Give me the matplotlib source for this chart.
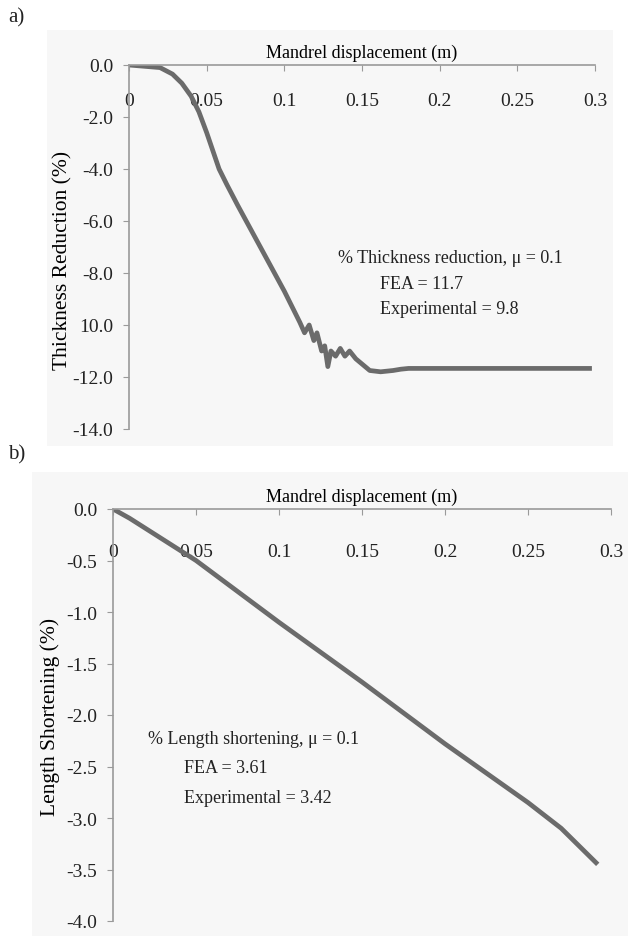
import matplotlib
matplotlib.use("Agg")
import matplotlib.pyplot as plt
from matplotlib.patches import Rectangle

# ---- data ----
# a) thickness reduction vs mandrel displacement
disp_a = [0.0, 0.01, 0.02, 0.028, 0.034, 0.04, 0.045, 0.05, 0.054, 0.058, 0.063,
          0.07, 0.08, 0.09, 0.1, 0.105, 0.11, 0.113, 0.116, 0.119,
          0.121, 0.124, 0.126, 0.128, 0.130, 0.133, 0.136, 0.139, 0.142, 0.146,
          0.150, 0.155, 0.162, 0.170, 0.175, 0.180, 0.298]
thick_red = [0.0, -0.05, -0.1, -0.35, -0.7, -1.2, -1.8, -2.6, -3.3, -4.0, -4.6,
             -5.4, -6.5, -7.6, -8.7, -9.3, -9.9, -10.3, -10.0, -10.6,
             -10.3, -11.0, -10.8, -11.6, -11.0, -11.2, -10.9, -11.2, -11.0, -11.3,
             -11.5, -11.75, -11.8, -11.75, -11.7, -11.67, -11.67]

# b) length shortening vs mandrel displacement
disp_b = [0.0, 0.01, 0.05, 0.1, 0.15, 0.2, 0.25, 0.27, 0.292]
len_short = [0.0, -0.09, -0.5, -1.1, -1.68, -2.28, -2.85, -3.1, -3.45]

x_ticks = [0, 0.05, 0.1, 0.15, 0.2, 0.25, 0.3]
x_ticklabels = ["0", "0.05", "0.1", "0.15", "0.2", "0.25", "0.3"]
a_yticks = [0, -2, -4, -6, -8, -10, -12, -14]
a_yticklabels = ["0.0", "-2.0", "-4.0", "-6.0", "-8.0", "10.0", "-12.0", "-14.0"]
b_yticks = [0, -0.5, -1.0, -1.5, -2.0, -2.5, -3.0, -3.5, -4.0]
b_yticklabels = ["0.0", "-0.5", "-1.0", "-1.5", "-2.0", "-2.5", "-3.0", "-3.5", "-4.0"]

W, H = 636, 937
plt.rcParams['font.family'] = ['Liberation Serif', 'DejaVu Serif']
plt.rcParams['font.size'] = 13
plt.rcParams['text.color'] = '#222222'

fig = plt.figure(figsize=(W / 100, H / 100), dpi=100)
fig.patch.set_facecolor("white")


def px_rect(x0, y0, x1, y1):
    # pixel box (top-left origin) -> figure fraction [l, b, w, h]
    return [x0 / W, 1 - y1 / H, (x1 - x0) / W, (y1 - y0) / H]


# light grey chart backgrounds (behind the axes)
for x0, y0, x1, y1 in [(47, 31, 613, 447), (32, 473, 628, 937)]:
    l, b, w, h = px_rect(x0, y0, x1, y1)
    fig.patches.append(Rectangle((l, b), w, h, transform=fig.transFigure,
                                 facecolor="#f7f7f7", edgecolor="none", zorder=-10))

line_col = "#6b6b6b"
spine_col = "#9a9a9a"


def style_axes(ax, yticks, yticklabels, ylim, xpad):
    ax.set_facecolor("none")
    ax.set_xlim(0, 0.3)
    ax.set_ylim(*ylim)
    for s in ["right", "bottom"]:
        ax.spines[s].set_visible(False)
    for s in ["left", "top"]:
        ax.spines[s].set_color(spine_col)
        ax.spines[s].set_linewidth(1.2)
    ax.xaxis.set_ticks_position("top")
    ax.set_xticks(x_ticks)
    ax.set_xticklabels(x_ticklabels)
    ax.tick_params(axis="x", direction="in", length=4.5, color=spine_col,
                   labeltop=True, labelbottom=False, pad=xpad, labelsize=14,
                   labelcolor="#222222")
    ax.set_yticks(yticks)
    ax.set_yticklabels(yticklabels)
    ax.tick_params(axis="y", direction="out", length=4.5, color=spine_col, pad=7,
                   labelsize=14, labelcolor="#222222")


# ---- panel a ----
ax1 = fig.add_axes(px_rect(129, 66, 595, 430))
style_axes(ax1, a_yticks, a_yticklabels, (-14, 0), -32)
ax1.plot(disp_a, thick_red, color=line_col, lw=3.4, solid_capstyle="butt")
ax1.set_xlabel("Mandrel displacement (m)", labelpad=6)
ax1.xaxis.set_label_position("top")
ax1.set_ylabel("Thickness Reduction (%)", fontsize=15.5)
ax1.yaxis.set_label_coords(-0.122, 0.467)
ax1.text(0.1345, -7.4, "% Thickness reduction, \u03bc = 0.1", va="center")
ax1.text(0.1615, -8.4, "FEA = 11.7", va="center")
ax1.text(0.1615, -9.35, "Experimental = 9.8", va="center")

# ---- panel b ----
ax2 = fig.add_axes(px_rect(113, 510, 611, 922))
style_axes(ax2, b_yticks, b_yticklabels, (-4, 0), -37)
ax2.plot(disp_b, len_short, color=line_col, lw=3.4, solid_capstyle="butt")
ax2.set_xlabel("Mandrel displacement (m)", labelpad=6)
ax2.xaxis.set_label_position("top")
ax2.set_ylabel("Length Shortening (%)", fontsize=15.5)
ax2.yaxis.set_label_coords(-0.106, 0.498)
ax2.text(0.021, -2.23, "% Length shortening, \u03bc = 0.1", va="center")
ax2.text(0.043, -2.51, "FEA = 3.61", va="center")
ax2.text(0.043, -2.8, "Experimental = 3.42", va="center")

fig.text(8 / W, 1 - 18 / H, "a)", fontsize=15, va="center")
fig.text(8 / W, 1 - 455 / H, "b)", fontsize=15, va="center")

fig.savefig("out.png", dpi=100)
